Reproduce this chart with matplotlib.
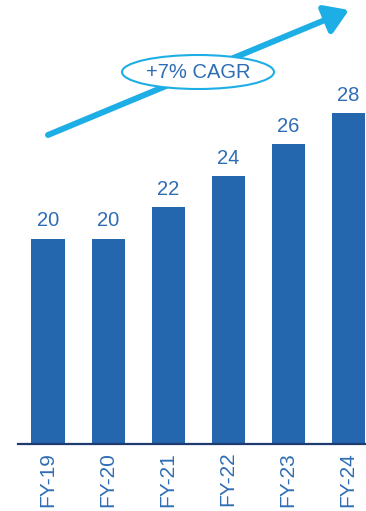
import matplotlib.pyplot as plt
from matplotlib.patches import Ellipse, FancyArrowPatch

years = ['FY-19', 'FY-20', 'FY-21', 'FY-22', 'FY-23', 'FY-24']
values = [20, 20, 22, 24, 26, 28]
cagr_label = '+7% CAGR'

BAR = '#2567AE'
TEXT = '#2E6DB4'
ARROW = '#1EAEE6'
AXIS = '#1F3A6E'

plt.rcParams['font.family'] = ['Liberation Sans', 'DejaVu Sans']

fig = plt.figure(figsize=(3.66, 5.11), dpi=100)
ax = fig.add_axes([18 / 366, 67.5 / 511, 348 / 366, 443.5 / 511])

x = range(len(years))
bars = ax.bar(x, values, width=0.55, color=BAR, zorder=2)
for b, v in zip(bars, values):
    ax.annotate(str(v), (b.get_x() + b.get_width() / 2, v), xytext=(0, 6),
                textcoords='offset points', ha='center', va='bottom',
                fontsize=14.5, color=TEXT)

ax.set_xlim(-0.5, 5.3)
ax.set_ylim(7, 35.17)
ax.set_xticks(list(x))
ax.set_xticklabels(years, rotation=90, fontsize=15, color=TEXT)
ax.tick_params(axis='x', length=0, pad=6)
ax.set_yticks([])
for s in ['top', 'right', 'left']:
    ax.spines[s].set_visible(False)
ax.spines['bottom'].set_color(AXIS)
ax.spines['bottom'].set_linewidth(1.6)

# growth arrow with the CAGR badge sitting on it
arrow = FancyArrowPatch((48 / 366, 1 - 135 / 511), (349 / 366, 1 - 10 / 511),
                        transform=fig.transFigure,
                        arrowstyle='-|>,head_length=0.7,head_width=0.45',
                        mutation_scale=20, lw=4.3, color=ARROW,
                        shrinkA=0, shrinkB=0, zorder=5)
fig.add_artist(arrow)
badge = Ellipse((198 / 366, 1 - 72 / 511), 152 / 366, 34 / 511,
                transform=fig.transFigure, facecolor='white',
                edgecolor=ARROW, lw=1.5, zorder=6)
fig.add_artist(badge)
fig.text(198 / 366, 1 - 73 / 511, cagr_label, ha='center', va='center',
         fontsize=14.5, color=TEXT, zorder=7)

fig.savefig('out.png', dpi=100)
